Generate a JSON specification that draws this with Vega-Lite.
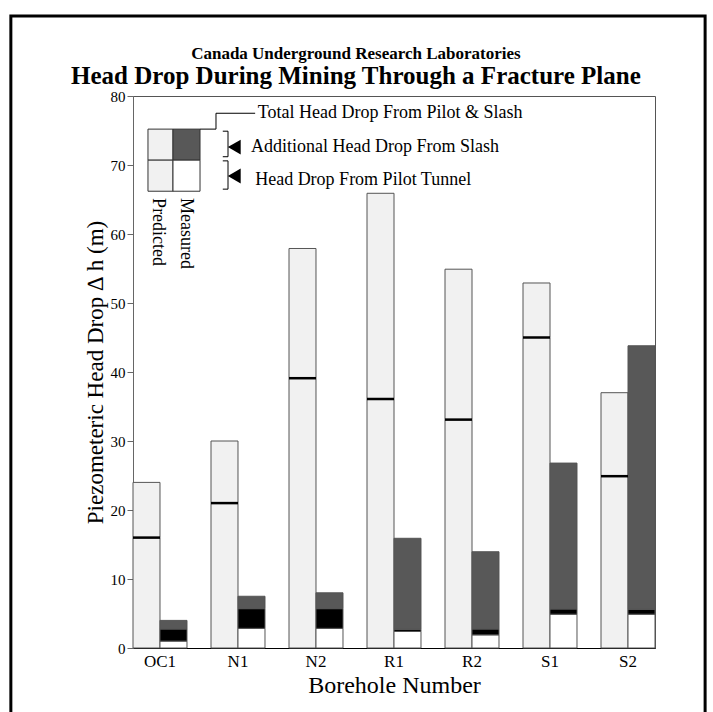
{
  "$schema": "https://vega.github.io/schema/vega-lite/v6.json",
  "width": 522,
  "height": 552,
  "autosize": {"type": "none"},
  "padding": {"left": 133, "top": 96, "right": 58, "bottom": 64},
  "background": "white",
  "config": {
    "font": "Liberation Serif",
    "view": {"stroke": "#555", "strokeWidth": 1}
  },
  "datasets": {
    "segs": [
      {"borehole": "OC1", "type": "Predicted", "part": "Predicted pilot", "k": 1, "value": 16},
      {"borehole": "OC1", "type": "Predicted", "part": "Predicted slash", "k": 3, "value": 8},
      {"borehole": "N1", "type": "Predicted", "part": "Predicted pilot", "k": 1, "value": 21},
      {"borehole": "N1", "type": "Predicted", "part": "Predicted slash", "k": 3, "value": 9},
      {"borehole": "N2", "type": "Predicted", "part": "Predicted pilot", "k": 1, "value": 39.1},
      {"borehole": "N2", "type": "Predicted", "part": "Predicted slash", "k": 3, "value": 18.8},
      {"borehole": "R1", "type": "Predicted", "part": "Predicted pilot", "k": 1, "value": 36.1},
      {"borehole": "R1", "type": "Predicted", "part": "Predicted slash", "k": 3, "value": 29.8},
      {"borehole": "R2", "type": "Predicted", "part": "Predicted pilot", "k": 1, "value": 33.1},
      {"borehole": "R2", "type": "Predicted", "part": "Predicted slash", "k": 3, "value": 21.8},
      {"borehole": "S1", "type": "Predicted", "part": "Predicted pilot", "k": 1, "value": 45},
      {"borehole": "S1", "type": "Predicted", "part": "Predicted slash", "k": 3, "value": 7.9},
      {"borehole": "S2", "type": "Predicted", "part": "Predicted pilot", "k": 1, "value": 24.9},
      {"borehole": "S2", "type": "Predicted", "part": "Predicted slash", "k": 3, "value": 12.1},
      {"borehole": "OC1", "type": "Measured", "part": "Measured pilot", "k": 1, "value": 1},
      {"borehole": "OC1", "type": "Measured", "part": "Measured transition", "k": 2, "value": 1.75},
      {"borehole": "OC1", "type": "Measured", "part": "Measured slash", "k": 3, "value": 1.25},
      {"borehole": "N1", "type": "Measured", "part": "Measured pilot", "k": 1, "value": 2.85},
      {"borehole": "N1", "type": "Measured", "part": "Measured transition", "k": 2, "value": 2.85},
      {"borehole": "N1", "type": "Measured", "part": "Measured slash", "k": 3, "value": 1.8},
      {"borehole": "N2", "type": "Measured", "part": "Measured pilot", "k": 1, "value": 2.85},
      {"borehole": "N2", "type": "Measured", "part": "Measured transition", "k": 2, "value": 2.85},
      {"borehole": "N2", "type": "Measured", "part": "Measured slash", "k": 3, "value": 2.3},
      {"borehole": "R1", "type": "Measured", "part": "Measured pilot", "k": 1, "value": 2.4},
      {"borehole": "R1", "type": "Measured", "part": "Measured transition", "k": 2, "value": 0.3},
      {"borehole": "R1", "type": "Measured", "part": "Measured slash", "k": 3, "value": 13.2},
      {"borehole": "R2", "type": "Measured", "part": "Measured pilot", "k": 1, "value": 1.9},
      {"borehole": "R2", "type": "Measured", "part": "Measured transition", "k": 2, "value": 0.85},
      {"borehole": "R2", "type": "Measured", "part": "Measured slash", "k": 3, "value": 11.2},
      {"borehole": "S1", "type": "Measured", "part": "Measured pilot", "k": 1, "value": 4.9},
      {"borehole": "S1", "type": "Measured", "part": "Measured transition", "k": 2, "value": 0.75},
      {"borehole": "S1", "type": "Measured", "part": "Measured slash", "k": 3, "value": 21.15},
      {"borehole": "S2", "type": "Measured", "part": "Measured pilot", "k": 1, "value": 4.9},
      {"borehole": "S2", "type": "Measured", "part": "Measured transition", "k": 2, "value": 0.7},
      {"borehole": "S2", "type": "Measured", "part": "Measured slash", "k": 3, "value": 38.2}
    ],
    "lines": [
      {"borehole": "OC1", "type": "Predicted", "pilot": 16},
      {"borehole": "N1", "type": "Predicted", "pilot": 21},
      {"borehole": "N2", "type": "Predicted", "pilot": 39.1},
      {"borehole": "R1", "type": "Predicted", "pilot": 36.1},
      {"borehole": "R2", "type": "Predicted", "pilot": 33.1},
      {"borehole": "S1", "type": "Predicted", "pilot": 45},
      {"borehole": "S2", "type": "Predicted", "pilot": 24.9}
    ],
    "one": [{}]
  },
  "layer": [
    {
      "data": {"name": "segs"},
      "mark": {"type": "bar", "stroke": "#555", "strokeWidth": 1},
      "encoding": {
        "x": {
          "field": "borehole", "type": "nominal",
          "scale": {"domain": ["OC1", "N1", "N2", "R1", "R2", "S1", "S2"], "paddingInner": 0.3077, "paddingOuter": 0},
          "axis": {"title": "Borehole Number", "ticks": false, "labelAngle": 0, "labelFontSize": 17, "labelColor": "black", "labelPadding": 5, "domainColor": "black", "titleFontSize": 24, "titleFontWeight": "normal", "titleColor": "black", "titlePadding": 4}
        },
        "xOffset": {
          "field": "type", "type": "nominal",
          "scale": {"domain": ["Predicted", "Measured"], "paddingInner": 0, "paddingOuter": 0}
        },
        "y": {
          "field": "value", "type": "quantitative", "stack": "zero",
          "scale": {"domain": [0, 80], "nice": false},
          "axis": {"title": "Piezometeric Head Drop ∆ h (m)", "orient": "left", "values": [0, 10, 20, 30, 40, 50, 60, 70, 80], "grid": false, "domain": true, "ticks": true, "labels": true, "domainColor": "#666", "tickColor": "#666", "tickSize": 6, "labelFontSize": 15, "labelColor": "black", "labelPadding": 2, "titleFontSize": 23, "titleFontWeight": "normal", "titleColor": "black", "titlePadding": 3}
        },
        "color": {
          "field": "part", "type": "nominal",
          "scale": {"domain": ["Predicted pilot", "Predicted slash", "Measured pilot", "Measured transition", "Measured slash"], "range": ["#f1f1f1", "#f1f1f1", "#ffffff", "#000000", "#585858"]},
          "legend": null
        },
        "order": {"field": "k", "type": "quantitative"}
      }
    },
    {
      "data": {"name": "lines"},
      "mark": {"type": "tick", "color": "black", "thickness": 2.5, "size": 27, "opacity": 1},
      "encoding": {
        "x": {"field": "borehole", "type": "nominal", "scale": {"domain": ["OC1", "N1", "N2", "R1", "R2", "S1", "S2"], "paddingInner": 0.3077, "paddingOuter": 0}, "axis": null},
        "xOffset": {"field": "type", "type": "nominal", "scale": {"domain": ["Predicted", "Measured"], "paddingInner": 0, "paddingOuter": 0}},
        "y": {"field": "pilot", "type": "quantitative", "scale": {"domain": [0, 80], "nice": false}, "axis": null}
      }
    },
    {"data": {"name": "one"}, "mark": {"type": "rect", "fill": "#f1f1f1", "stroke": "#333", "strokeWidth": 1},
     "encoding": {"x": {"datum": 2.87, "type": "quantitative", "scale": {"domain": [0, 100]}, "axis": null}, "x2": {"datum": 7.66}, "y": {"datum": 75.2, "type": "quantitative", "scale": {"domain": [0, 80], "nice": false}, "axis": null}, "y2": {"datum": 70.7}}},
    {"data": {"name": "one"}, "mark": {"type": "rect", "fill": "#f1f1f1", "stroke": "#333", "strokeWidth": 1},
     "encoding": {"x": {"datum": 2.87, "type": "quantitative", "scale": {"domain": [0, 100]}, "axis": null}, "x2": {"datum": 7.66}, "y": {"datum": 70.7, "type": "quantitative", "scale": {"domain": [0, 80], "nice": false}, "axis": null}, "y2": {"datum": 66.2}}},
    {"data": {"name": "one"}, "mark": {"type": "rect", "fill": "#585858", "stroke": "#333", "strokeWidth": 1},
     "encoding": {"x": {"datum": 7.66, "type": "quantitative", "scale": {"domain": [0, 100]}, "axis": null}, "x2": {"datum": 12.84}, "y": {"datum": 75.2, "type": "quantitative", "scale": {"domain": [0, 80], "nice": false}, "axis": null}, "y2": {"datum": 70.7}}},
    {"data": {"name": "one"}, "mark": {"type": "rect", "fill": "#ffffff", "stroke": "#333", "strokeWidth": 1},
     "encoding": {"x": {"datum": 7.66, "type": "quantitative", "scale": {"domain": [0, 100]}, "axis": null}, "x2": {"datum": 12.84}, "y": {"datum": 70.7, "type": "quantitative", "scale": {"domain": [0, 80], "nice": false}, "axis": null}, "y2": {"datum": 66.2}}},
    {"data": {"name": "one"}, "mark": {"type": "rule", "color": "black", "strokeWidth": 1},
     "encoding": {"x": {"datum": 12.84, "type": "quantitative", "scale": {"domain": [0, 100]}, "axis": null}, "x2": {"datum": 15.9}, "y": {"datum": 75.2, "type": "quantitative", "scale": {"domain": [0, 80], "nice": false}, "axis": null}}},
    {"data": {"name": "one"}, "mark": {"type": "rule", "color": "black", "strokeWidth": 1},
     "encoding": {"x": {"datum": 15.9, "type": "quantitative", "scale": {"domain": [0, 100]}, "axis": null}, "y": {"datum": 75.2, "type": "quantitative", "scale": {"domain": [0, 80], "nice": false}, "axis": null}, "y2": {"datum": 77.5}}},
    {"data": {"name": "one"}, "mark": {"type": "rule", "color": "black", "strokeWidth": 1},
     "encoding": {"x": {"datum": 15.9, "type": "quantitative", "scale": {"domain": [0, 100]}, "axis": null}, "x2": {"datum": 23.4}, "y": {"datum": 77.5, "type": "quantitative", "scale": {"domain": [0, 80], "nice": false}, "axis": null}}},
    {"data": {"name": "one"}, "mark": {"type": "rule", "color": "black", "strokeWidth": 1},
     "encoding": {"x": {"datum": 17.2, "type": "quantitative", "scale": {"domain": [0, 100]}, "axis": null}, "x2": {"datum": 18.2}, "y": {"datum": 74.9, "type": "quantitative", "scale": {"domain": [0, 80], "nice": false}, "axis": null}}},
    {"data": {"name": "one"}, "mark": {"type": "rule", "color": "black", "strokeWidth": 1},
     "encoding": {"x": {"datum": 17.2, "type": "quantitative", "scale": {"domain": [0, 100]}, "axis": null}, "x2": {"datum": 18.2}, "y": {"datum": 71.2, "type": "quantitative", "scale": {"domain": [0, 80], "nice": false}, "axis": null}}},
    {"data": {"name": "one"}, "mark": {"type": "rule", "color": "black", "strokeWidth": 1},
     "encoding": {"x": {"datum": 18.2, "type": "quantitative", "scale": {"domain": [0, 100]}, "axis": null}, "y": {"datum": 74.9, "type": "quantitative", "scale": {"domain": [0, 80], "nice": false}, "axis": null}, "y2": {"datum": 71.2}}},
    {"data": {"name": "one"}, "mark": {"type": "rule", "color": "black", "strokeWidth": 1},
     "encoding": {"x": {"datum": 17.2, "type": "quantitative", "scale": {"domain": [0, 100]}, "axis": null}, "x2": {"datum": 18.2}, "y": {"datum": 70.6, "type": "quantitative", "scale": {"domain": [0, 80], "nice": false}, "axis": null}}},
    {"data": {"name": "one"}, "mark": {"type": "rule", "color": "black", "strokeWidth": 1},
     "encoding": {"x": {"datum": 17.2, "type": "quantitative", "scale": {"domain": [0, 100]}, "axis": null}, "x2": {"datum": 18.2}, "y": {"datum": 66.5, "type": "quantitative", "scale": {"domain": [0, 80], "nice": false}, "axis": null}}},
    {"data": {"name": "one"}, "mark": {"type": "rule", "color": "black", "strokeWidth": 1},
     "encoding": {"x": {"datum": 18.2, "type": "quantitative", "scale": {"domain": [0, 100]}, "axis": null}, "y": {"datum": 70.6, "type": "quantitative", "scale": {"domain": [0, 80], "nice": false}, "axis": null}, "y2": {"datum": 66.5}}},
    {"data": {"name": "one"}, "mark": {"type": "point", "shape": "triangle-left", "filled": true, "color": "black", "size": 220, "opacity": 1},
     "encoding": {"x": {"datum": 19.4, "type": "quantitative", "scale": {"domain": [0, 100]}, "axis": null}, "y": {"datum": 72.6, "type": "quantitative", "scale": {"domain": [0, 80], "nice": false}, "axis": null}}},
    {"data": {"name": "one"}, "mark": {"type": "point", "shape": "triangle-left", "filled": true, "color": "black", "size": 220, "opacity": 1},
     "encoding": {"x": {"datum": 19.4, "type": "quantitative", "scale": {"domain": [0, 100]}, "axis": null}, "y": {"datum": 68.4, "type": "quantitative", "scale": {"domain": [0, 80], "nice": false}, "axis": null}}},
    {"data": {"name": "one"}, "mark": {"type": "text", "text": "Total Head Drop From Pilot & Slash", "align": "left", "baseline": "middle", "fontSize": 18, "font": "Liberation Serif", "color": "black"},
     "encoding": {"x": {"datum": 23.9, "type": "quantitative", "scale": {"domain": [0, 100]}, "axis": null}, "y": {"datum": 77.5, "type": "quantitative", "scale": {"domain": [0, 80], "nice": false}, "axis": null}}},
    {"data": {"name": "one"}, "mark": {"type": "text", "text": "Additional Head Drop From Slash", "align": "left", "baseline": "middle", "fontSize": 18, "font": "Liberation Serif", "color": "black"},
     "encoding": {"x": {"datum": 22.6, "type": "quantitative", "scale": {"domain": [0, 100]}, "axis": null}, "y": {"datum": 72.6, "type": "quantitative", "scale": {"domain": [0, 80], "nice": false}, "axis": null}}},
    {"data": {"name": "one"}, "mark": {"type": "text", "text": "Head Drop From Pilot Tunnel", "align": "left", "baseline": "middle", "fontSize": 18, "font": "Liberation Serif", "color": "black"},
     "encoding": {"x": {"datum": 23.4, "type": "quantitative", "scale": {"domain": [0, 100]}, "axis": null}, "y": {"datum": 67.8, "type": "quantitative", "scale": {"domain": [0, 80], "nice": false}, "axis": null}}},
    {"data": {"name": "one"}, "mark": {"type": "text", "text": "Predicted", "angle": 90, "align": "left", "baseline": "middle", "fontSize": 18, "font": "Liberation Serif", "color": "black"},
     "encoding": {"x": {"datum": 4.7, "type": "quantitative", "scale": {"domain": [0, 100]}, "axis": null}, "y": {"datum": 65.2, "type": "quantitative", "scale": {"domain": [0, 80], "nice": false}, "axis": null}}},
    {"data": {"name": "one"}, "mark": {"type": "text", "text": "Measured", "angle": 90, "align": "left", "baseline": "middle", "fontSize": 18, "font": "Liberation Serif", "color": "black"},
     "encoding": {"x": {"datum": 10.1, "type": "quantitative", "scale": {"domain": [0, 100]}, "axis": null}, "y": {"datum": 65.2, "type": "quantitative", "scale": {"domain": [0, 80], "nice": false}, "axis": null}}},
    {"data": {"name": "one"}, "mark": {"type": "text", "text": "Canada Underground Research Laboratories", "align": "center", "baseline": "alphabetic", "fontSize": 17, "fontWeight": "bold", "font": "Liberation Serif", "color": "black"},
     "encoding": {"x": {"datum": 42.7, "type": "quantitative", "scale": {"domain": [0, 100]}, "axis": null}, "y": {"datum": 85.4, "type": "quantitative", "scale": {"domain": [0, 80], "nice": false}, "axis": null}}},
    {"data": {"name": "one"}, "mark": {"type": "text", "text": "Head Drop During Mining Through a Fracture Plane", "align": "center", "baseline": "alphabetic", "fontSize": 25, "fontWeight": "bold", "font": "Liberation Serif", "color": "black"},
     "encoding": {"x": {"datum": 42.7, "type": "quantitative", "scale": {"domain": [0, 100]}, "axis": null}, "y": {"datum": 81.8, "type": "quantitative", "scale": {"domain": [0, 80], "nice": false}, "axis": null}}},
    {"data": {"name": "one"}, "mark": {"type": "rect", "fill": null, "fillOpacity": 0, "stroke": "black", "strokeWidth": 3, "clip": false},
     "encoding": {"x": {"datum": -23.4, "type": "quantitative", "scale": {"domain": [0, 100]}, "axis": null}, "x2": {"datum": 109.6}, "y": {"datum": 91.6, "type": "quantitative", "scale": {"domain": [0, 80], "nice": false}, "axis": null}, "y2": {"datum": -15}}}
  ],
  "resolve": {"scale": {"x": "independent"}, "axis": {"y": "independent"}}
}
